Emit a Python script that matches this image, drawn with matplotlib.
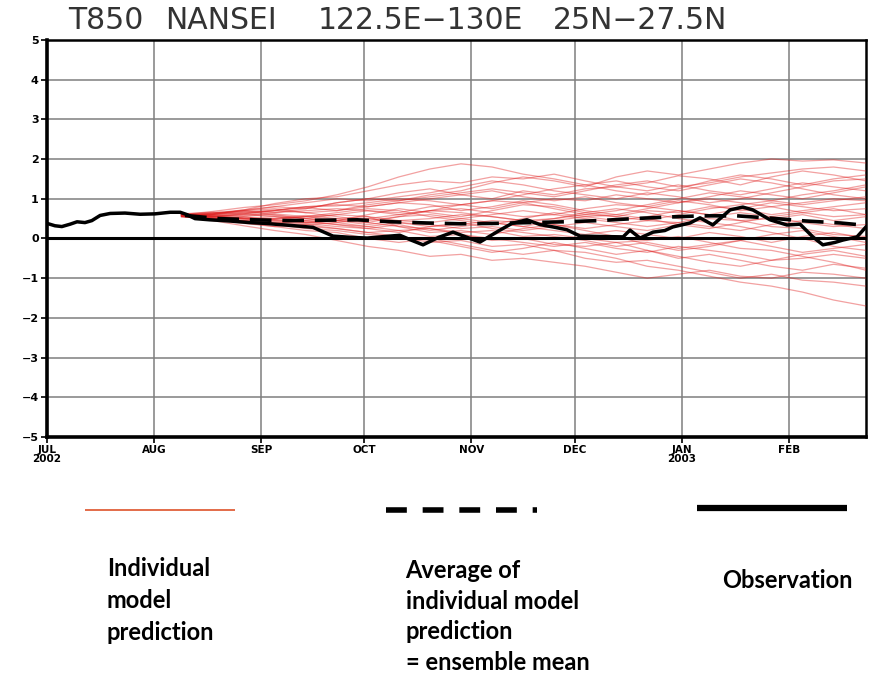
import matplotlib.pyplot as plt
from matplotlib.lines import Line2D

# days counted from 1 Jul 2002
month_days = [0, 31, 62, 92, 123, 153, 184, 215]
month_labels = ['JUL\n2002', 'AUG', 'SEP', 'OCT', 'NOV', 'DEC', 'JAN\n2003', 'FEB']

# observation
obs_days = [0, 2.3, 4.3, 6.7, 8.7, 11, 13, 15.4, 18.3, 22.6, 27, 31.3, 35.7, 38.6, 40.6,
            42.9, 47.2, 53, 58.8, 63.2, 70.4, 77.1, 82.9, 87.8, 92.8, 98, 102.3, 105.8,
            109, 113.3, 117.7, 122, 125.5, 131.3, 134.8, 139.1, 142.9, 146.7, 150.7,
            154.5, 160.3, 167, 169, 171.9, 175.7, 179.1, 181.4, 186.4, 189.3, 193, 198,
            201.7, 204.6, 209.6, 214.5, 218.3, 222, 224.9, 228.4, 230.7, 234.8, 237.4]
obs_vals = [0.38, 0.32, 0.30, 0.36, 0.42, 0.40, 0.45, 0.58, 0.63, 0.64, 0.61, 0.62, 0.66,
            0.66, 0.60, 0.50, 0.47, 0.44, 0.40, 0.38, 0.33, 0.28, 0.06, 0.03, 0.01, 0.05,
            0.08, -0.05, -0.16, 0.02, 0.16, 0.02, -0.09, 0.21, 0.38, 0.47, 0.35, 0.29,
            0.22, 0.06, 0.05, 0.04, 0.21, 0.01, 0.16, 0.20, 0.29, 0.39, 0.52, 0.34, 0.72,
            0.79, 0.72, 0.47, 0.34, 0.36, 0.04, -0.16, -0.10, -0.04, 0.04, 0.29]

# ensemble mean
mean_days = [40, 50, 60, 70, 80, 90, 100, 110, 120, 130, 140, 150, 160, 170, 180, 190,
             200, 210, 220, 230, 237.4]
mean_vals = [0.58, 0.50, 0.47, 0.45, 0.46, 0.47, 0.42, 0.39, 0.37, 0.38, 0.40, 0.42, 0.45,
             0.50, 0.54, 0.57, 0.57, 0.51, 0.44, 0.39, 0.33]

# individual members
member_days = [39, 48, 57, 66, 75, 84, 93, 102, 111, 120, 129, 138, 147, 156, 165, 174,
               183, 192, 201, 210, 219, 228, 237.4]
m01 = [0.60, 0.68, 0.78, 0.85, 0.95, 1.10, 1.30, 1.55, 1.75, 1.88, 1.80, 1.62, 1.50, 1.35, 1.45, 1.30, 1.20, 1.35, 1.50, 1.40, 1.25, 1.10, 1.00]
m02 = [0.58, 0.62, 0.70, 0.80, 0.75, 0.90, 1.00, 0.95, 1.10, 1.20, 1.40, 1.55, 1.45, 1.30, 1.55, 1.70, 1.60, 1.75, 1.90, 2.00, 1.95, 1.98, 1.90]
m03 = [0.55, 0.60, 0.72, 0.88, 1.00, 1.05, 1.20, 1.35, 1.45, 1.40, 1.55, 1.50, 1.62, 1.45, 1.30, 1.40, 1.58, 1.50, 1.35, 1.55, 1.70, 1.60, 1.45]
m04 = [0.55, 0.48, 0.40, 0.35, 0.25, 0.20, 0.10, 0.05, -0.10, -0.05, -0.20, -0.15, -0.30, -0.35, -0.50, -0.70, -0.80, -0.95, -1.10, -1.20, -1.35, -1.55, -1.70]
m05 = [0.56, 0.45, 0.32, 0.20, 0.10, -0.05, -0.20, -0.30, -0.45, -0.40, -0.55, -0.50, -0.60, -0.70, -0.85, -1.00, -0.90, -0.80, -0.95, -1.00, -0.85, -0.90, -1.00]
m06 = [0.57, 0.50, 0.45, 0.38, 0.30, 0.25, 0.15, 0.20, 0.05, 0.10, -0.05, 0.00, -0.15, -0.20, -0.10, -0.30, -0.50, -0.40, -0.55, -0.70, -0.80, -0.65, -0.75]
m07 = [0.60, 0.55, 0.60, 0.55, 0.50, 0.60, 0.70, 0.65, 0.80, 0.85, 0.75, 0.90, 1.00, 0.95, 1.10, 1.00, 0.90, 1.05, 1.20, 1.10, 1.00, 1.15, 1.30]
m08 = [0.62, 0.58, 0.50, 0.45, 0.42, 0.35, 0.30, 0.40, 0.35, 0.25, 0.30, 0.20, 0.30, 0.40, 0.30, 0.20, 0.35, 0.50, 0.45, 0.30, 0.25, 0.10, 0.05]
m09 = [0.58, 0.62, 0.65, 0.70, 0.80, 0.85, 0.80, 0.90, 1.00, 1.10, 1.00, 1.20, 1.10, 1.25, 1.30, 1.20, 1.35, 1.20, 1.10, 1.25, 1.40, 1.30, 1.20]
m10 = [0.55, 0.50, 0.55, 0.45, 0.40, 0.45, 0.50, 0.40, 0.30, 0.35, 0.45, 0.40, 0.50, 0.60, 0.55, 0.70, 0.65, 0.80, 0.75, 0.60, 0.70, 0.80, 0.90]
m11 = [0.60, 0.55, 0.48, 0.50, 0.58, 0.50, 0.40, 0.30, 0.25, 0.15, 0.20, 0.05, 0.10, 0.00, -0.10, -0.05, 0.05, -0.10, -0.25, -0.30, -0.45, -0.60, -0.80]
m12 = [0.56, 0.60, 0.58, 0.65, 0.70, 0.75, 0.70, 0.60, 0.70, 0.75, 0.65, 0.55, 0.60, 0.75, 0.85, 0.80, 0.95, 0.85, 0.70, 0.80, 0.90, 1.00, 0.95]
m13 = [0.59, 0.52, 0.44, 0.40, 0.35, 0.40, 0.30, 0.20, 0.25, 0.10, 0.00, -0.10, -0.20, -0.10, -0.25, -0.35, -0.20, -0.30, -0.40, -0.55, -0.50, -0.40, -0.50]
m14 = [0.57, 0.62, 0.70, 0.75, 0.65, 0.70, 0.80, 0.90, 0.85, 0.70, 0.80, 0.95, 0.85, 0.70, 0.60, 0.75, 0.90, 1.00, 0.90, 0.80, 0.65, 0.55, 0.60]
m15 = [0.58, 0.50, 0.45, 0.50, 0.55, 0.45, 0.35, 0.45, 0.50, 0.60, 0.55, 0.45, 0.35, 0.25, 0.35, 0.45, 0.40, 0.30, 0.20, 0.35, 0.45, 0.35, 0.25]
m16 = [0.60, 0.65, 0.70, 0.65, 0.75, 0.90, 1.00, 1.15, 1.25, 1.10, 1.20, 1.05, 0.95, 1.05, 0.90, 0.80, 0.70, 0.60, 0.75, 0.90, 0.80, 0.70, 0.75]
m17 = [0.55, 0.47, 0.38, 0.30, 0.20, 0.15, 0.00, -0.10, 0.00, -0.15, -0.30, -0.40, -0.30, -0.50, -0.60, -0.55, -0.70, -0.85, -1.00, -0.90, -1.05, -1.10, -1.20]
m18 = [0.58, 0.55, 0.52, 0.48, 0.55, 0.60, 0.55, 0.45, 0.40, 0.50, 0.60, 0.70, 0.60, 0.50, 0.40, 0.30, 0.40, 0.55, 0.65, 0.55, 0.40, 0.30, 0.35]
m19 = [0.62, 0.66, 0.62, 0.58, 0.50, 0.40, 0.50, 0.60, 0.70, 0.65, 0.55, 0.45, 0.50, 0.65, 0.75, 0.65, 0.50, 0.40, 0.30, 0.15, 0.00, -0.20, -0.30]
m20 = [0.56, 0.58, 0.62, 0.70, 0.78, 0.70, 0.85, 0.95, 1.05, 1.15, 1.25, 1.15, 1.05, 1.20, 1.35, 1.45, 1.30, 1.40, 1.55, 1.65, 1.75, 1.80, 1.70]
m21 = [0.57, 0.52, 0.40, 0.30, 0.35, 0.25, 0.15, 0.05, -0.05, -0.20, -0.35, -0.25, -0.10, -0.25, -0.40, -0.30, -0.45, -0.60, -0.70, -0.55, -0.40, -0.30, -0.45]
m22 = [0.59, 0.63, 0.68, 0.60, 0.50, 0.45, 0.60, 0.75, 0.65, 0.55, 0.70, 0.85, 0.80, 0.65, 0.55, 0.45, 0.60, 0.75, 0.85, 0.95, 1.10, 1.20, 1.35]
m23 = [0.61, 0.56, 0.50, 0.42, 0.38, 0.30, 0.25, 0.35, 0.20, 0.30, 0.40, 0.30, 0.20, 0.10, 0.20, 0.10, 0.00, 0.15, 0.05, -0.10, 0.05, 0.15, 0.00]
m24 = [0.57, 0.60, 0.66, 0.72, 0.80, 0.82, 0.90, 1.00, 0.95, 0.85, 0.95, 1.10, 1.25, 1.35, 1.20, 1.10, 1.25, 1.45, 1.60, 1.50, 1.35, 1.50, 1.60]
m25 = [0.60, 0.55, 0.62, 0.70, 0.65, 0.55, 0.45, 0.55, 0.70, 0.85, 0.95, 0.90, 0.75, 0.60, 0.70, 0.85, 1.00, 1.15, 1.05, 0.95, 0.85, 0.95, 1.05]
m26 = [0.57, 0.52, 0.45, 0.38, 0.45, 0.35, 0.25, 0.15, 0.30, 0.40, 0.25, 0.15, 0.05, -0.05, -0.20, -0.10, -0.25, -0.15, -0.05, -0.20, -0.35, -0.25, -0.15]
m27 = [0.59, 0.64, 0.72, 0.80, 0.90, 1.00, 0.95, 1.05, 1.15, 1.30, 1.45, 1.35, 1.20, 1.10, 1.00, 1.15, 1.05, 0.90, 1.00, 1.15, 1.30, 1.45, 1.50]
m28 = [0.58, 0.54, 0.50, 0.55, 0.45, 0.50, 0.55, 0.30, 0.15, 0.20, 0.10, 0.25, 0.35, 0.20, 0.05, -0.15, -0.30, -0.20, -0.05, 0.10, 0.20, 0.05, -0.10]
m29 = [0.56, 0.60, 0.55, 0.62, 0.55, 0.65, 0.75, 0.70, 0.55, 0.45, 0.35, 0.50, 0.65, 0.55, 0.45, 0.55, 0.70, 0.60, 0.45, 0.50, 0.60, 0.45, 0.55]
m30 = [0.61, 0.57, 0.52, 0.48, 0.40, 0.45, 0.40, 0.55, 0.60, 0.50, 0.40, 0.30, 0.45, 0.55, 0.60, 0.50, 0.35, 0.25, 0.40, 0.55, 0.65, 0.75, 0.60]
members = [m01, m02, m03, m04, m05, m06, m07, m08, m09, m10, m11, m12, m13, m14, m15,
           m16, m17, m18, m19, m20, m21, m22, m23, m24, m25, m26, m27, m28, m29, m30]

fig = plt.figure(figsize=(8.74, 6.77), dpi=100)
ax = fig.add_axes([0.0538, 0.3545, 0.937, 0.5865])

for m in members:
    ax.plot(member_days, m, color=(0.88, 0.12, 0.12), alpha=0.42, lw=0.9, zorder=3)

ax.axhline(0, color='black', lw=2.2, zorder=4)
ax.plot(mean_days, mean_vals, color='black', lw=2.6, dashes=(6, 3), zorder=5)
ax.plot(obs_days, obs_vals, color='black', lw=2.5, zorder=6)

ax.set_xlim(0, 237.4)
ax.set_ylim(-5, 5)
ax.set_yticks(range(-5, 6))
ax.set_xticks(month_days)
ax.set_xticklabels(month_labels, fontsize=7.5, fontweight='bold', linespacing=0.85)
ax.set_yticklabels([str(v).replace('-', '\u2212') for v in range(-5, 6)],
                   fontsize=8, fontweight='bold')
ax.tick_params(axis='both', length=4, width=1.2, pad=2)
ax.grid(True, color='#7f7f7f', lw=1.1)
ax.set_axisbelow(True)
for side in ['left', 'bottom']:
    ax.spines[side].set_linewidth(2.6)
for side in ['top', 'right']:
    ax.spines[side].set_linewidth(1.8)

# title, word by word
title_words = ['T850', 'NANSEI', '122.5E\u2212130E', '25N\u221227.5N']
title_x = [68, 165, 318, 553]
for word, x in zip(title_words, title_x):
    fig.text(x / 874, 0.969, word, fontsize=21.5, color='#333333', ha='left',
             va='center', family='DejaVu Sans')

# legend samples
fig.add_artist(Line2D([0.097, 0.269], [0.247, 0.247], color='#e0603a', lw=1.3,
                      solid_capstyle='butt'))
fig.add_artist(Line2D([0.442, 0.614], [0.247, 0.247], color='black', lw=4,
                      dashes=(3.75, 2.85), dash_capstyle='butt'))
fig.add_artist(Line2D([0.7975, 0.969], [0.249, 0.249], color='black', lw=4.5,
                      solid_capstyle='butt'))

lab = dict(fontsize=17, fontweight='bold', family='Lato', ha='left', va='top')
fig.text(0.122, 0.177, 'Individual\nmodel\nprediction', linespacing=1.47, **lab)
fig.text(0.464, 0.174, 'Average of\nindividual model\nprediction\n= ensemble mean',
         linespacing=1.40, **lab)
fig.text(0.826, 0.160, 'Observation', **lab)

fig.savefig('out.png', dpi=100)
